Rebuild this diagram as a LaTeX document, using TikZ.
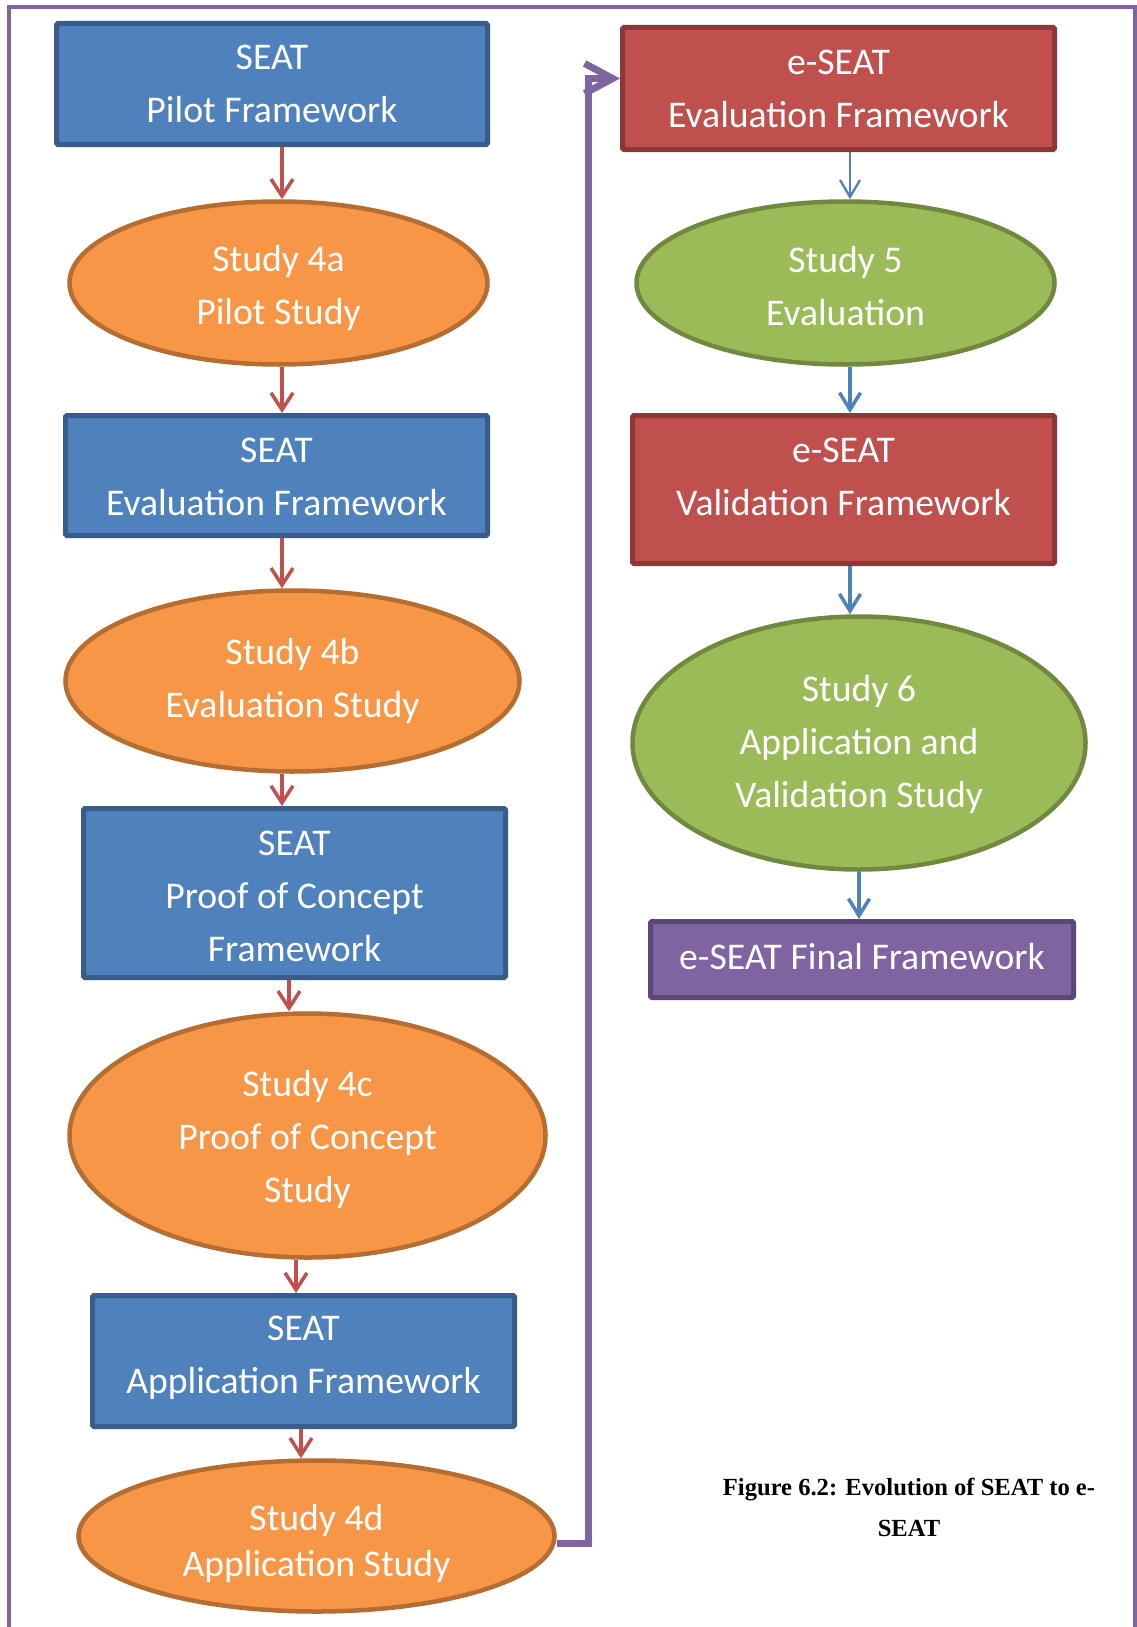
\documentclass[tikz,border=0pt]{standalone}
\usepackage{fontspec}
\setmainfont{Carlito}
\newfontfamily\capfont{Liberation Serif}
\usetikzlibrary{shapes.geometric,arrows.meta}
\definecolor{bfill}{HTML}{4F81BD}\definecolor{bline}{HTML}{385D8A}
\definecolor{ofill}{HTML}{F79646}\definecolor{oline}{HTML}{B66D31}
\definecolor{rfill}{HTML}{C0504D}\definecolor{rline}{HTML}{8C3836}
\definecolor{gfill}{HTML}{9BBB59}\definecolor{gline}{HTML}{71893F}
\definecolor{pfill}{HTML}{8064A2}\definecolor{pline}{HTML}{5C4776}
\definecolor{arrred}{HTML}{C0504D}\definecolor{arrblue}{HTML}{4F81BD}
\definecolor{framepurple}{HTML}{8064A2}
\tikzset{
  boxbase/.style={rectangle, draw, line width=5pt, rounded corners=1.5pt, text=white, align=center,
    font=\fontsize{37.7}{53}\selectfont, inner sep=0pt},
  bluebox/.style={boxbase, fill=bfill, draw=bline},
  redbox/.style={boxbase, fill=rfill, draw=rline},
  purplebox/.style={boxbase, fill=pfill, draw=pline},
  ovalbase/.style={ellipse, draw, line width=4.5pt, text=white, align=center,
    font=\fontsize{37.7}{53}\selectfont, inner sep=0pt},
  orangeoval/.style={ovalbase, fill=ofill, draw=oline},
  greenoval/.style={ovalbase, fill=gfill, draw=gline},
  redarr/.style={draw=arrred, line width=3.5pt, -{Straight Barb[length=17pt,width=22pt]}},
  bluearr/.style={draw=arrblue, line width=3.5pt, -{Straight Barb[length=17pt,width=21pt]}},
  thinbluearr/.style={draw=arrblue, line width=2.3pt, -{Straight Barb[length=17pt,width=20pt]}},
  pconn/.style={draw=pfill, line width=7pt, -{Straight Barb[length=28pt,width=30pt]}},
  frameline/.style={draw=framepurple, line width=4.5pt},
  capstyle/.style={align=center, text=black, inner sep=0pt,
    font=\capfont\bfseries\fontsize{24.6}{41}\selectfont}
}
\begin{document}
\begin{tikzpicture}[x=1pt,y=-1pt]
\useasboundingbox[fill=white] (0,0) rectangle (1137,1627);
\draw[frameline] (9,1640) -- (9,7) -- (1135,7) -- (1135,1640);

% left column
\node[bluebox, minimum width=431pt, minimum height=121pt] (n1) at (272,84) {SEAT\\Pilot Framework};
\node[orangeoval, minimum width=418pt, minimum height=163pt] (n2) at (278.5,283) {\mbox{}\\[-17pt]Study 4a\\Pilot Study};
\node[bluebox, minimum width=422pt, minimum height=120pt] (n3) at (276.5,475.5) {\mbox{}\\[-25pt]SEAT\\Evaluation Framework};
\node[orangeoval, minimum width=454pt, minimum height=181pt] (n4) at (292.5,681) {Study 4b\\Evaluation Study};
\node[bluebox, minimum width=422pt, minimum height=169pt] (n5) at (294.5,893) {\mbox{}\\[-22pt]SEAT\\Proof of Concept\\Framework};
\node[orangeoval, minimum width=476pt, minimum height=244pt] (n6) at (307.5,1135.5) {\mbox{}\\[-18pt]Study 4c\\Proof of Concept\\Study};
\node[bluebox, minimum width=422pt, minimum height=131pt] (n7) at (303.5,1361) {SEAT\\Application Framework\\[-40pt]\mbox{}};
\node[orangeoval, minimum width=476pt, minimum height=151pt] (n8) at (316.5,1536) {\mbox{}\\[-11.5pt]Study 4d\\[-7.5pt]Application Study};

% right column
\node[redbox, minimum width=432pt, minimum height=122pt] (m1) at (838.5,88.5) {e-SEAT\\Evaluation Framework};
\node[greenoval, minimum width=418pt, minimum height=163pt] (m2) at (845.5,283) {\mbox{}\\[-21pt]Study 5\\Evaluation};
\node[redbox, minimum width=422pt, minimum height=148pt] (m3) at (843.5,489.5) {e-SEAT\\Validation Framework\\[-27pt]\mbox{}};
\node[greenoval, minimum width=453pt, minimum height=253pt] (m4) at (859,743) {\mbox{}\\[-24pt]Study 6\\Application and\\Validation Study};
\node[purplebox, minimum width=423pt, minimum height=76pt] (m5) at (862,959.5) {e-SEAT Final Framework\\[-47pt]\mbox{}};

% caption
\node[capstyle] (cap) at (909,1507) {Figure 6.2: Evolution of SEAT to e-\\SEAT};

% arrow columns
\coordinate (xa) at (282,0);
\coordinate (xb) at (289,0);
\coordinate (xc) at (296,0);
\coordinate (xd) at (301,0);
\coordinate (xe) at (850,0);
\coordinate (xf) at (859,0);
\coordinate (cv) at (588,0);
\coordinate (pout) at ([yshift=-7pt]n8.east);
\coordinate (pin) at ([yshift=10pt]m1.west);

\draw[redarr] (n1.south -| xa) -- (n2.north -| xa);
\draw[redarr] (n2.south -| xa) -- (n3.north -| xa);
\draw[redarr] (n3.south -| xa) -- (n4.north -| xa);
\draw[redarr] (n4.south -| xa) -- (n5.north -| xa);
\draw[redarr] (n5.south -| xb) -- (n6.north -| xb);
\draw[redarr] (n6.south -| xc) -- (n7.north -| xc);
\draw[redarr] (n7.south -| xd) -- (n8.north -| xd);

\draw[thinbluearr] (m1.south -| xe) -- (m2.north -| xe);
\draw[bluearr] (m2.south -| xe) -- (m3.north -| xe);
\draw[bluearr] (m3.south -| xe) -- (m4.north -| xe);
\draw[bluearr] (m4.south -| xf) -- (m5.north -| xf);

\draw[pconn] (pout) -- (pout -| cv) -- (cv |- pin) -- (pin);
\end{tikzpicture}
\end{document}
